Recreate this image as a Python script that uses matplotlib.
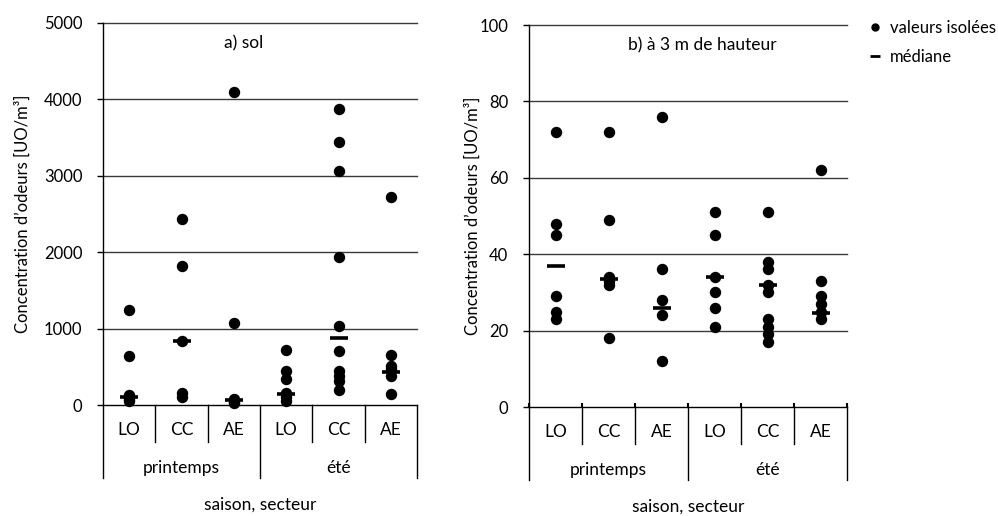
import matplotlib.pyplot as plt
from matplotlib.lines import Line2D

plt.rcParams['font.family'] = ['Lato', 'DejaVu Sans']
plt.rcParams['font.size'] = 12

secteurs = ['LO', 'CC', 'AE', 'LO', 'CC', 'AE']
saisons = ['printemps', 'été']

# a) sol  [UO/m3], valeurs isolees par saison/secteur
sol_valeurs = [
    [1240, 640, 130, 80, 50],
    [2430, 1820, 840, 160, 110],
    [4090, 1070, 80, 40, 20],
    [720, 450, 340, 160, 100, 50],
    [3870, 3440, 3060, 1930, 1030, 710, 450, 380, 310, 200],
    [2720, 650, 510, 470, 380, 140],
]
sol_medianes = [100, 840, 65, 140, 870, 435]

# b) a 3 m de hauteur
haut_valeurs = [
    [72, 48, 45, 29, 25, 23],
    [72, 49, 34, 33, 32, 18],
    [76, 36, 28, 24, 12],
    [51, 45, 34, 30, 26, 21],
    [51, 38, 36, 32, 30, 23, 21, 19, 17],
    [62, 33, 29, 27, 25, 23],
]
haut_medianes = [37, 33.5, 26, 34, 32, 24.5]

W, H = 998, 516
PT = 0.72  # points per pixel at dpi 100

fig = plt.figure(figsize=(W / 100, H / 100), dpi=100)
ax1 = fig.add_axes([103 / W, (H - 405) / H, 314 / W, 382.3 / H])
ax2 = fig.add_axes([529 / W, (H - 407) / H, 318 / W, 382 / H])


def panel(ax, valeurs, medianes, ymax, step, titre, titre_x, ylab_x, ticks_up):
    for i, vals in enumerate(valeurs):
        ax.plot([i] * len(vals), vals, 'o', color='black', markersize=7.2, zorder=3, clip_on=False)
    ax.plot(range(len(medianes)), medianes, '_', color='black', markersize=13.5,
            markeredgewidth=2.6, zorder=4)

    ax.set_xlim(-0.5, len(valeurs) - 0.5)
    ax.set_ylim(0, ymax)
    yt = list(range(0, ymax + 1, step))
    ax.set_yticks(yt)
    for t in yt[1:]:
        ax.axhline(t, color='#3a3a3a', lw=1, clip_on=False, zorder=1)

    for s in ['top', 'right']:
        ax.spines[s].set_visible(False)
    for s in ['left', 'bottom']:
        ax.spines[s].set_color('black')
        ax.spines[s].set_linewidth(1)

    ax.tick_params(axis='y', direction='out', length=6 * PT, width=1, pad=10.5, labelsize=12)
    ax.tick_params(axis='x', which='major', length=0, labelbottom=False)
    if ticks_up:
        ax.set_xticks([i - 0.5 for i in range(len(valeurs) + 1)], minor=True)
        ax.tick_params(axis='x', which='minor', direction='in', length=4 * PT, width=1.5)

    # tableau des categories sous l'axe
    hpx = ax.get_position().height * H
    tr = ax.get_xaxis_transform()
    for i in range(len(valeurs) + 1):
        depth = 73 if i % 3 == 0 else 37
        ax.add_line(Line2D([i - 0.5, i - 0.5], [0, -depth / hpx], transform=tr,
                           color='black', lw=1, clip_on=False))
    for i, lab in enumerate(secteurs):
        ax.annotate(lab, xy=(i, 0), xycoords=('data', 'axes fraction'),
                    xytext=(0, -25 * PT), textcoords='offset points',
                    ha='center', va='center', fontsize=12.5)
    for j, lab in enumerate(saisons):
        ax.annotate(lab, xy=(3 * j + 1, 0), xycoords=('data', 'axes fraction'),
                    xytext=(0, -63 * PT), textcoords='offset points',
                    ha='center', va='center', fontsize=12.5)
    ax.annotate('saison, secteur', xy=(0.5, 0), xycoords='axes fraction',
                xytext=(0, -100 * PT), textcoords='offset points',
                ha='center', va='center', fontsize=12.5)

    ax.text(titre_x, 0.947, titre, transform=ax.transAxes, ha='center', va='center', fontsize=12.5)
    ax.set_ylabel('Concentration d’odeurs [UO/m³]', fontsize=12)
    ax.yaxis.set_label_coords(ylab_x, 0.5)


panel(ax1, sol_valeurs, sol_medianes, 5000, 1000, 'a) sol', 0.449, -0.229, False)
panel(ax2, haut_valeurs, haut_medianes, 100, 20, 'b) à 3 m de hauteur', 0.544, -0.151, True)

handles = [
    Line2D([], [], marker='o', ls='none', color='black', markersize=5),
    Line2D([], [], marker='_', ls='none', color='black', markersize=7, markeredgewidth=2),
]
fig.legend(handles, ['valeurs isolées', 'médiane'], loc='upper left',
           bbox_to_anchor=(860 / W, 1 - 12 / H), frameon=False, fontsize=12,
           handlelength=0.8, handletextpad=0.5, labelspacing=0.75, borderpad=0)

fig.savefig('out.png', dpi=100)
plt.close()
